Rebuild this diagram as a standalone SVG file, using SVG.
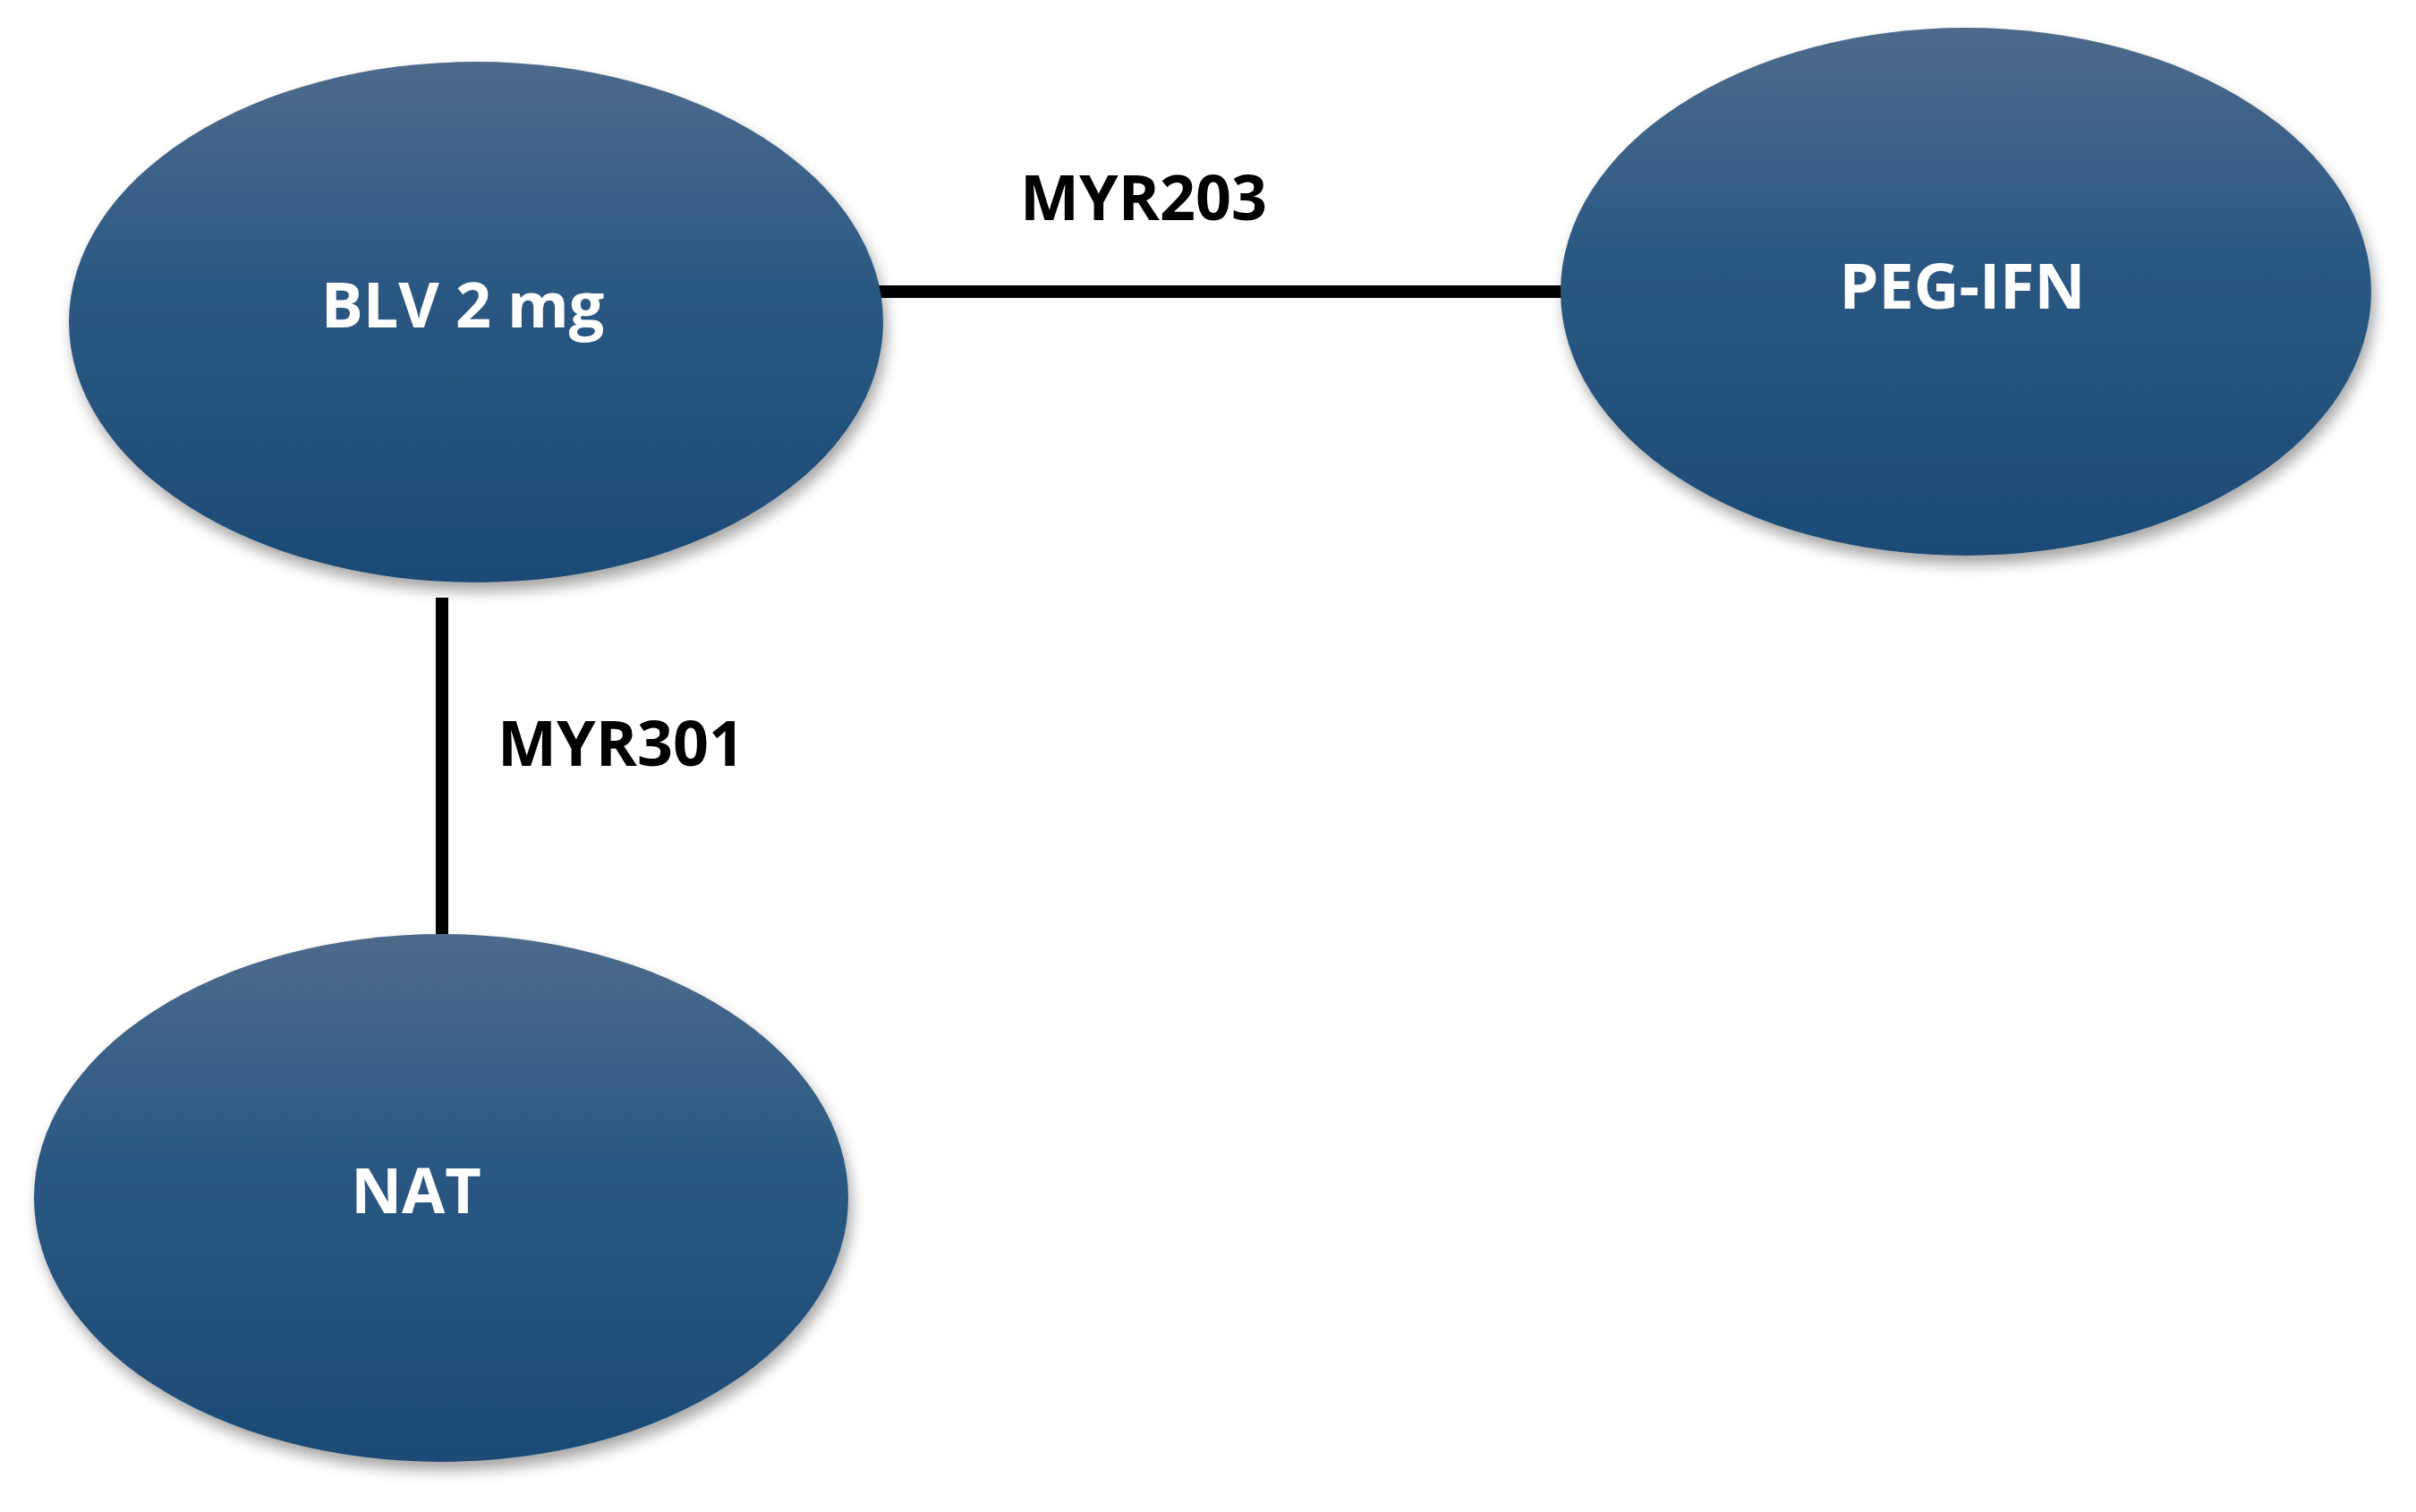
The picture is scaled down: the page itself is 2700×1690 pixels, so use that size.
<svg xmlns="http://www.w3.org/2000/svg" width="2700" height="1690" viewBox="0 0 2700 1690">
<defs>
<linearGradient id="g" x1="0" y1="0" x2="0" y2="1">
<stop offset="0" stop-color="#4d6b8c"/><stop offset="0.45" stop-color="#2a5882"/><stop offset="1" stop-color="#1d4a74"/>
</linearGradient>
<filter id="sh" x="-10%" y="-10%" width="125%" height="130%">
<feGaussianBlur in="SourceAlpha" stdDeviation="8"/><feOffset dx="4" dy="10"/>
<feComponentTransfer><feFuncA type="linear" slope="0.35"/></feComponentTransfer>
<feMerge><feMergeNode/><feMergeNode in="SourceGraphic"/></feMerge>
</filter>
<style>
.n{fill:url(#g);filter:url(#sh)}
.t{font-family:"Open Sans","Liberation Sans",sans-serif;font-weight:bold;font-size:70px;text-anchor:middle}
.w{fill:#fff}
.k{fill:#000}
.c{stroke:#000;stroke-width:14}
</style>
</defs>
<rect width="2700" height="1690" fill="#fff"/>
<g id="connectors">
<line class="c" x1="970" y1="326" x2="1757" y2="326"/>
<line class="c" x1="494" y1="668" x2="494" y2="1044"/>
<text class="t k" x="1278" y="246">MYR203</text>
<text class="t k" x="694" y="856">MYR301</text>
</g>
<g id="blv"><ellipse class="n" cx="532" cy="360" rx="455" ry="291"/><text class="t w" x="517" y="366">BLV 2 mg</text></g>
<g id="peg"><ellipse class="n" cx="2197" cy="326" rx="453" ry="295"/><text class="t w" x="2193" y="345">PEG-IFN</text></g>
<g id="nat"><ellipse class="n" cx="493" cy="1339" rx="455" ry="295"/><text class="t w" x="465" y="1356">NAT</text></g>
</svg>
